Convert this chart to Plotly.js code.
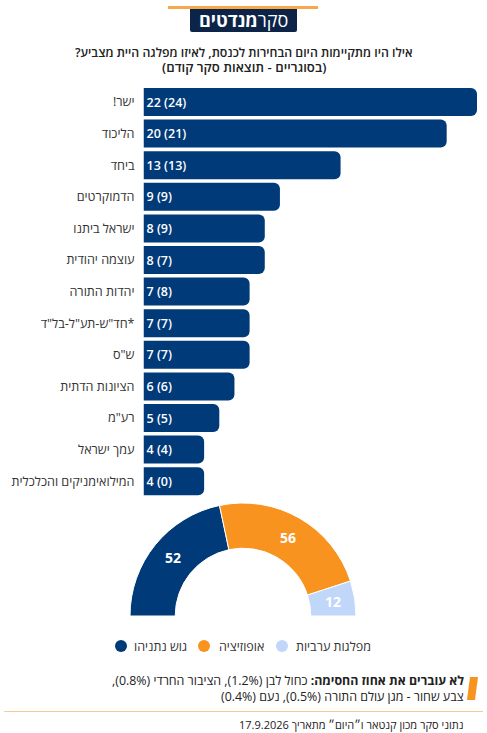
<!DOCTYPE html>
<html><head><meta charset="utf-8">
<script src="https://cdn.plot.ly/plotly-3.0.1.min.js"></script>
<style>html,body{margin:0;padding:0;background:#fff}</style></head>
<body><div id="c" style="width:487px;height:733px"></div>
<script>
const parties = ['ישר!','הליכוד','ביחד','הדמוקרטים','ישראל ביתנו','עוצמה יהודית','יהדות התורה','*חד"ש-תע"ל-בל"ד','ש"ס','הציונות הדתית','רע"מ','עמך ישראל','המילואימניקים והכלכלית'];
const seats = [22,20,13,9,8,8,7,7,7,6,5,4,4];
const previous = [24,21,13,9,9,7,8,7,7,6,5,4,0];
const blocs = ['גוש נתניהו','אופוזיציה','מפלגות ערביות'];
const blocSeats = [52,56,12];
const blocColors = ['#003a78','#f99320','#c0d7fa'];
const RLM = '\u200f';
const W = 487, H = 733;
const px = x => x / W, py = y => 1 - y / H;
const FONT = '"Open Sans", sans-serif';
const total = blocSeats.reduce((a,b)=>a+b,0);

const barTrace = {
  type:'bar', orientation:'h', x:seats, y:parties.map(p=>RLM+p+RLM),
  marker:{color:'#003a78', cornerradius:6},
  text:seats.map((s,i)=>`${s} (${previous[i]})`),
  textposition:'inside', insidetextanchor:'start', textangle:0, constraintext:'none',
  textfont:{family:FONT,size:12.5,color:'#fff',weight:600}, hoverinfo:'skip', cliponaxis:false,
  xaxis:'x', yaxis:'y'
};
const pieTrace = {
  type:'pie', values:[...blocSeats,total], sort:false, direction:'clockwise', rotation:-90,
  hole:0.6, domain:{x:[px(130),px(356)], y:[py(729),py(503)]},
  marker:{colors:[...blocColors,'rgba(0,0,0,0)'], line:{color:'#fff',width:[1,1,1,0]}},
  textinfo:'none', hoverinfo:'skip', showlegend:false
};
const ann = (x,y,text,size,opts={}) => Object.assign({xref:'paper',yref:'paper',x:px(x),y:py(y),text,showarrow:false,
  xanchor:'right',yanchor:'middle',align:'right',font:{family:FONT,size,color:'#222'},borderpad:0,borderwidth:0},opts);
const center = {xanchor:'center',align:'center'};
const legendFont = {family:FONT,size:12.5,color:'#333'};
const pieLabelFont = {family:FONT,size:14,color:'#fff',weight:700};

const annotations = [
  ann(243.5,19.5,RLM+'סקר<b>מנדטים</b>'+RLM,18,Object.assign({},center,{font:{family:FONT,size:18,color:'#fff'}})),
  ann(243.5,52,RLM+'אילו היו מתקיימות היום הבחירות לכנסת, לאיזו מפלגה היית מצביע?'+RLM,12.3,Object.assign({},center,{font:{family:FONT,size:12.3,color:'#222',weight:600}})),
  ann(243.5,66.5,RLM+'(בסוגריים - תוצאות סקר קודם)'+RLM,13.2,Object.assign({},center,{font:{family:FONT,size:13.2,color:'#222',weight:600}})),
  ann(172.7,557.7,String(blocSeats[0]),14,Object.assign({},center,{font:pieLabelFont})),
  ann(288.3,537,String(blocSeats[1]),14,Object.assign({},center,{font:pieLabelFont})),
  ann(333,601,String(blocSeats[2]),14,Object.assign({},center,{font:pieLabelFont})),
  ann(371,646,blocs[2],12.5,{font:legendFont}),
  ann(264,646,blocs[1],12.5,{font:legendFont}),
  ann(187,646,blocs[0],12.5,{font:legendFont}),
  ann(464,680,RLM+'<b>לא עוברים את אחוז החסימה:</b> כחול לבן (1.2%), הציבור החרדי (0.8%),'+RLM,12.4,{}),
  ann(464,696,RLM+'צבע שחור - מגן עולם התורה (0.5%), נעם (0.4%)'+RLM,12.4,{}),
  ann(463,724,RLM+'נתוני סקר מכון קנטאר ו״היום״ מתאריך 17.9.2026'+RLM,11,{})
];
const circle = (cx,cy,r,color) => ({type:'circle',xref:'paper',yref:'paper',x0:px(cx-r),x1:px(cx+r),y0:py(cy+r),y1:py(cy-r),fillcolor:color,line:{width:0}});
const shapes = [
  {type:'rect',xref:'paper',yref:'paper',x0:px(168),x1:px(318),y0:py(9),y1:py(6),fillcolor:'#f7a84a',line:{width:0}},
  {type:'path',xref:'paper',yref:'paper',line:{width:0},fillcolor:'#0c2447',
   path:`M ${px(190)} ${py(9)} L ${px(297)} ${py(9)} L ${px(297)} ${py(30)} Q ${px(297)} ${py(32)} ${px(295)} ${py(32)} L ${px(192)} ${py(32)} Q ${px(190)} ${py(32)} ${px(190)} ${py(30)} Z`},
  circle(121,646,6,blocColors[0]), circle(204,646,6,blocColors[1]), circle(282,646,6,blocColors[2]),
  {type:'path',xref:'paper',yref:'paper',line:{width:0},fillcolor:'#f99320',
   path:`M ${px(470)} ${py(677)} L ${px(478)} ${py(677)} L ${px(475)} ${py(700)} L ${px(467)} ${py(700)} Z`},
  {type:'line',xref:'paper',yref:'paper',x0:px(4),x1:px(483),y0:py(711.5),y1:py(711.5),line:{color:'#f8c998',width:1}}
];
const layout = {
  width:W,height:H,margin:{l:0,r:0,t:0,b:0},paper_bgcolor:'#fff',plot_bgcolor:'#fff',
  showlegend:false,bargap:0.114,
  xaxis:{domain:[px(143.5),px(477)],range:[0,22],visible:false,fixedrange:true},
  yaxis:{domain:[py(497),py(86.2)],autorange:'reversed',type:'category',anchor:'x',showgrid:false,showline:false,zeroline:false,
    ticks:'',ticklabelstandoff:8,automargin:false,tickfont:{family:FONT,size:12.6,color:'#333'},fixedrange:true},
  shapes,annotations
};
Plotly.newPlot('c',[barTrace,pieTrace],layout,{displayModeBar:false,staticPlot:true});
</script></body></html>
